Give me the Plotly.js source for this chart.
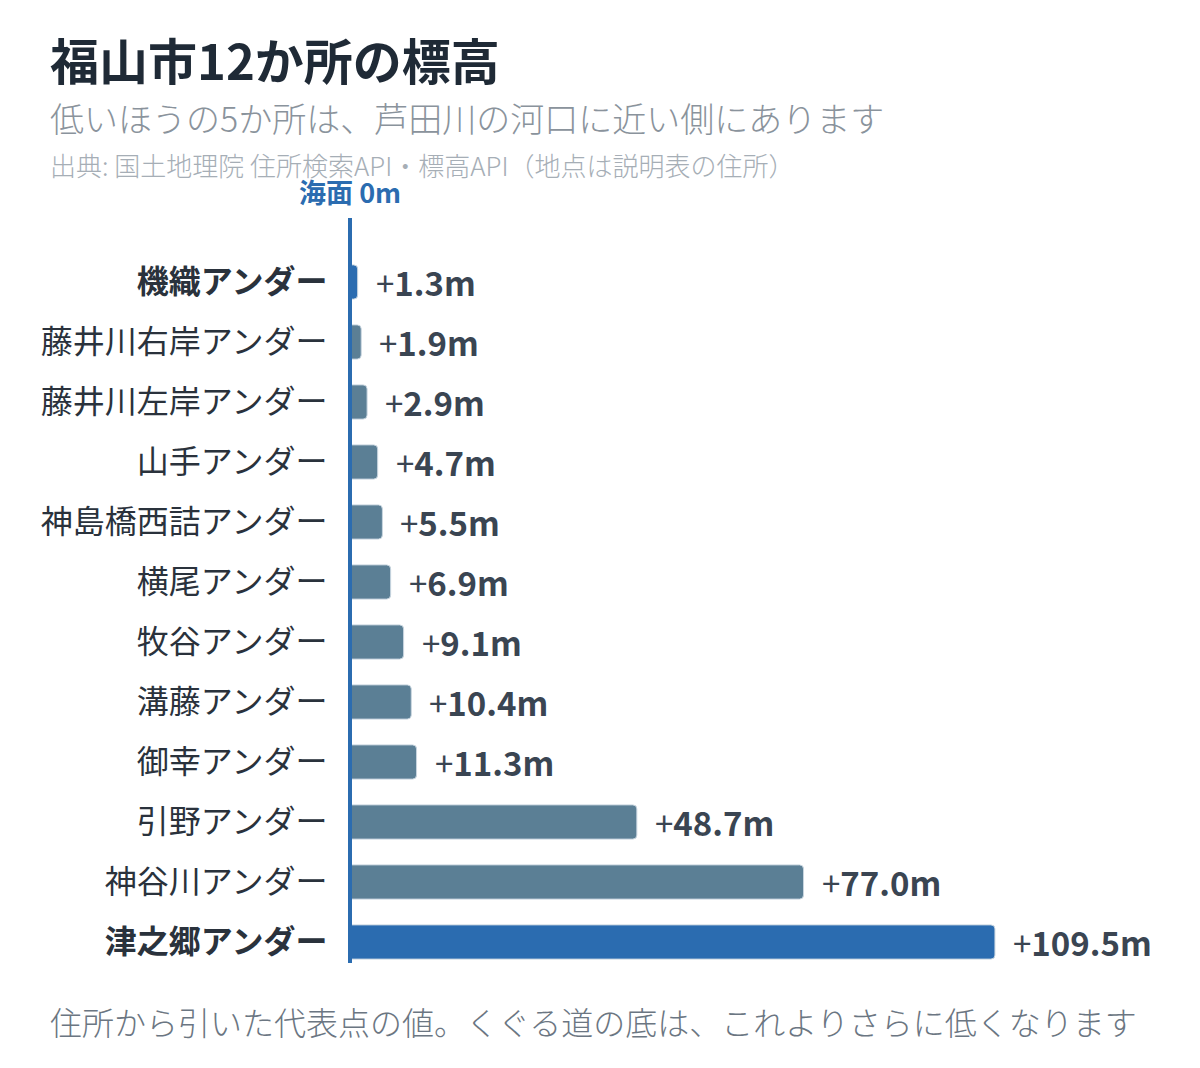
<!DOCTYPE html>
<html>
<head>
<meta charset="utf-8">
<script src="https://cdn.plot.ly/plotly-3.0.1.min.js"></script>
<style>
html,body{margin:0;padding:0;background:#fff;}
#chart{width:1200px;height:1068px;}
</style>
</head>
<body>
<div id="chart"></div>
<script>
// ---- data ----
const places = ["機織アンダー","藤井川右岸アンダー","藤井川左岸アンダー","山手アンダー","神島橋西詰アンダー","横尾アンダー","牧谷アンダー","溝藤アンダー","御幸アンダー","引野アンダー","神谷川アンダー","津之郷アンダー"];
const elevations = [1.3, 1.9, 2.9, 4.7, 5.5, 6.9, 9.1, 10.4, 11.3, 48.7, 77.0, 109.5];
const highlighted = [true, false, false, false, false, false, false, false, false, false, false, true];
const titleText = "福山市12か所の標高";
const subtitleText = "低いほうの5か所は、芦田川の河口に近い側にあります";
const sourceText = "出典: 国土地理院 住所検索API・標高API（地点は説明表の住所）";
const seaLevelText = "海面 0m";
const footnoteText = "住所から引いた代表点の値。くぐる道の底は、これよりさらに低くなります";

// ---- layout geometry ----
const W = 1200, H = 1068;
const L = 346, R = 40, T = 218, B = 105;
const pw = W - L - R, ph = H - T - B;
const PXU = 5.89;               // pixels per metre
const x0px = 350;               // pixel position of 0 m
const px2x = p => (p - L) / pw;
const py2y = p => (H - B - p) / ph;

const FONT = "'Noto Sans CJK JP', 'Noto Sans', sans-serif";
const BLUE = "#2b6cb0";
const GRAY = "#5b7f95";

const colors = highlighted.map(h => h ? BLUE : GRAY);
const ticktext = places.map((p, i) => highlighted[i] ? "<b>" + p + "</b>" : p);

const trace = {
  type: "bar",
  orientation: "h",
  y: places,
  x: elevations,
  marker: {color: colors, line: {color: "#c9d6e0", width: 1}, cornerradius: 4},
  width: 0.57,
  hoverinfo: "skip"
};

const valueAnnots = elevations.map((v, i) => ({
  x: v, y: places[i], xref: "x", yref: "y",
  text: "+<b>" + v.toFixed(1) + "m</b>",
  showarrow: false, xanchor: "left", yanchor: "middle", xshift: 16,
  font: {family: FONT, size: 33, color: "#3a4552"}
}));

const textAnnots = [
  {text: "<b>" + titleText + "</b>", x: px2x(48), y: py2y(58), size: 49, color: "#1f2a36", weight: 700},
  {text: subtitleText, x: px2x(48), y: py2y(117), size: 34, color: "#8a939c", weight: 300},
  {text: sourceText, x: px2x(48), y: py2y(165), size: 26, color: "#a6aeb6", weight: 300},
  {text: footnoteText, x: px2x(48), y: py2y(1021), size: 32, color: "#6b7682", weight: 300}
].map(a => ({
  text: a.text, x: a.x, y: a.y, xref: "paper", yref: "paper",
  xanchor: "left", yanchor: "middle", showarrow: false,
  font: {family: FONT, size: a.size, color: a.color, weight: a.weight}
}));

textAnnots.push({
  text: "<b>" + seaLevelText + "</b>", x: 0, y: py2y(192), xref: "x", yref: "paper",
  xanchor: "center", yanchor: "middle", showarrow: false,
  font: {family: FONT, size: 27, color: BLUE}
});

const layout = {
  width: W, height: H,
  margin: {l: L, r: R, t: T, b: B},
  paper_bgcolor: "#fff", plot_bgcolor: "#fff",
  showlegend: false,
  font: {family: FONT},
  xaxis: {range: [-(x0px - L) / PXU, (pw - (x0px - L)) / PXU], showgrid: false, zeroline: false, showticklabels: false, showline: false, fixedrange: true},
  yaxis: {
    type: "category", categoryorder: "array", categoryarray: places,
    range: [11 + 21/60, -64/60],
    tickvals: places, ticktext: ticktext,
    ticks: "outside", ticklen: 11, tickcolor: "rgba(0,0,0,0)",
    tickfont: {family: FONT, size: 32, color: "#2a323c", weight: 400},
    showgrid: false, zeroline: false, showline: false, fixedrange: true
  },
  shapes: [{type: "line", xref: "x", yref: "paper", x0: 0, x1: 0, y0: 0, y1: 1, layer: "above", line: {color: BLUE, width: 4}}],
  annotations: valueAnnots.concat(textAnnots)
};

Plotly.newPlot("chart", [trace], layout, {displayModeBar: false, staticPlot: true});
</script>
</body>
</html>
